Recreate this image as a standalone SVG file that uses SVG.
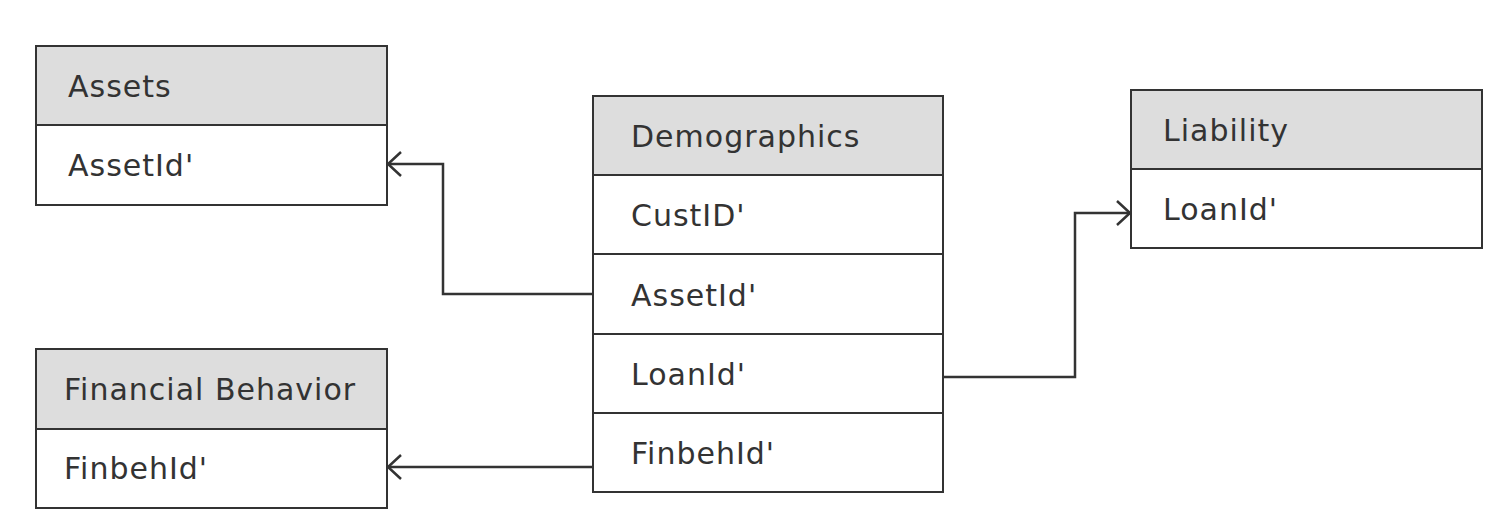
<svg xmlns="http://www.w3.org/2000/svg" width="1495" height="531" viewBox="0 0 1495 531">
<style>
.box{fill:#ffffff;stroke:#333333;stroke-width:2}
.hdr{fill:#dddddd;stroke:#333333;stroke-width:2}
.t{font-family:"DejaVu Sans","Liberation Sans",sans-serif;font-size:30px;letter-spacing:1px;fill:#333333}
.c{fill:none;stroke:#333333;stroke-width:2.5}
</style>
<defs>
<marker id="arr" markerWidth="20" markerHeight="30" refX="17" refY="14" orient="auto" markerUnits="userSpaceOnUse" viewBox="0 0 20 30">
<path d="M4 2 L17 14 L4 26" fill="none" stroke="#333333" stroke-width="2.5"/>
</marker>
</defs>
<g id="assets">
<rect class="box" x="36" y="46" width="351" height="159"/>
<rect class="hdr" x="36" y="46" width="351" height="79"/>
<text class="t" x="68" y="97">Assets</text>
<text class="t" x="68" y="176">AssetId'</text>
</g>
<g id="demographics">
<rect class="box" x="593" y="96" width="350" height="396"/>
<rect class="hdr" x="593" y="96" width="350" height="79"/>
<line class="box" x1="593" y1="254" x2="943" y2="254"/>
<line class="box" x1="593" y1="334" x2="943" y2="334"/>
<line class="box" x1="593" y1="413" x2="943" y2="413"/>
<text class="t" x="631" y="147">Demographics</text>
<text class="t" x="631" y="226">CustID'</text>
<text class="t" x="631" y="306">AssetId'</text>
<text class="t" x="631" y="385">LoanId'</text>
<text class="t" x="631" y="464">FinbehId'</text>
</g>
<g id="liability">
<rect class="box" x="1131" y="90" width="351" height="158"/>
<rect class="hdr" x="1131" y="90" width="351" height="79"/>
<text class="t" x="1163" y="141">Liability</text>
<text class="t" x="1163" y="220">LoanId'</text>
</g>
<g id="financial-behavior">
<rect class="box" x="36" y="349" width="351" height="159"/>
<rect class="hdr" x="36" y="349" width="351" height="80"/>
<text class="t" x="64" y="400">Financial Behavior</text>
<text class="t" x="64" y="479">FinbehId'</text>
</g>
<g id="connectors">
<path class="c" d="M593 294 L443 294 L443 164 L388 164" marker-end="url(#arr)"/>
<path class="c" d="M593 467 L388 467" marker-end="url(#arr)"/>
<path class="c" d="M943 377 L1075 377 L1075 213 L1130 213" marker-end="url(#arr)"/>
</g>
</svg>
